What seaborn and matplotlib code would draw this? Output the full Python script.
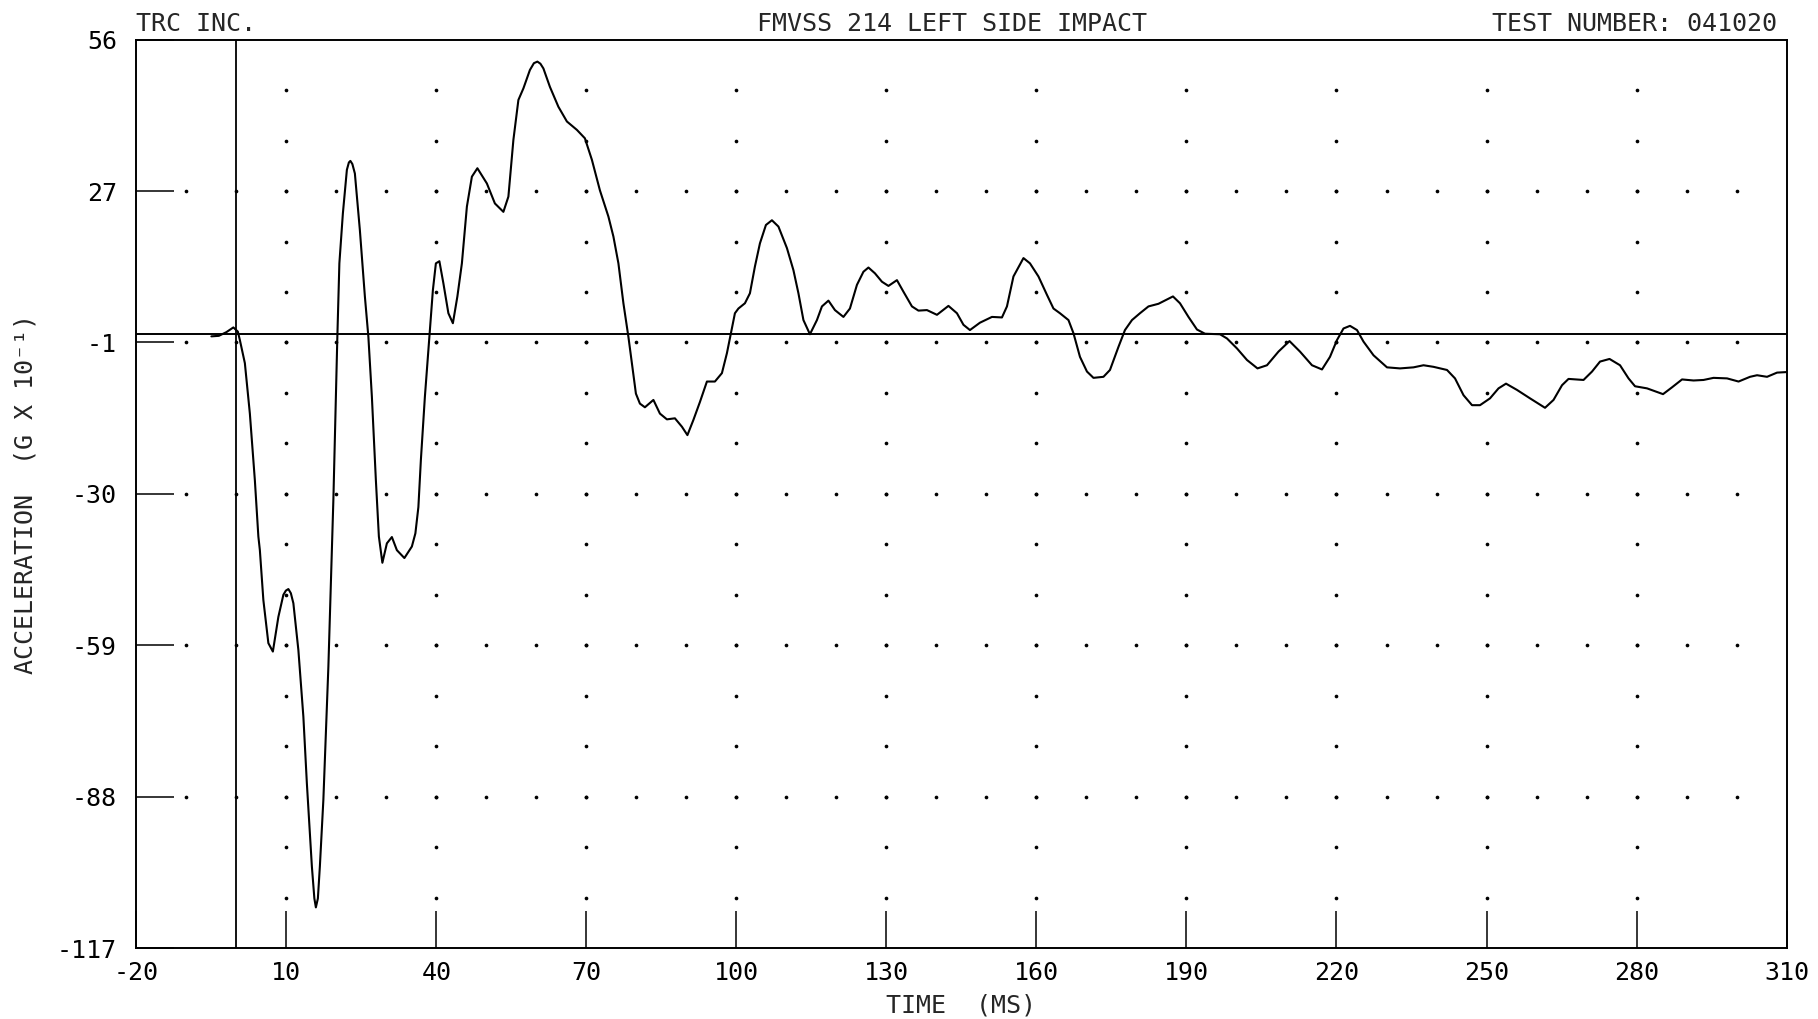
import numpy as np
import pandas as pd
import matplotlib.pyplot as plt
import seaborn as sns

time_ms = [-5.0, -3.5, -2.0, -0.6, 0.3, 0.7, 1.7, 2.7, 3.7, 4.4, 4.7, 5.4, 6.4, 7.3,
           8.4, 9.4, 9.9, 10.4, 10.9, 11.4, 12.4, 13.4, 14.1, 15.1, 15.6, 15.9, 16.3, 16.7, 17.4,
           17.9, 18.4, 18.9, 19.4, 19.9, 20.2, 20.6, 21.3, 22.1, 22.5, 22.8, 23.2, 23.7, 24.7, 25.7,
           26.4, 27.1, 27.9, 28.5, 29.2, 30.1, 31.1, 32.1, 33.6, 35.1, 35.8, 36.4, 36.9,
           37.7, 38.6, 39.3, 39.9, 40.6, 41.4, 42.4, 43.3, 44.2, 45.1, 46.1, 47.1, 48.2,
           50.1, 51.7, 53.4, 54.4, 55.4, 56.4, 57.4, 58.7, 59.5, 60.2, 60.8, 61.4, 62.7, 64.4, 66.1,
           68.1, 69.7, 71.1, 72.7, 74.4, 75.4, 76.4, 77.4, 78.4, 79.1, 79.9, 80.7, 81.7,
           83.4, 84.7, 86.1, 87.7, 89.1, 90.2, 91.4, 92.7, 94.1, 95.7, 97.1, 98.1, 98.9,
           99.7, 100.4, 101.7, 102.7, 103.7, 104.7, 105.9, 107.1, 108.4, 110.1, 111.4,
           112.4, 113.4, 114.7, 116.1, 117.1, 118.4, 119.7, 121.4, 122.7, 124.1, 125.4,
           126.4, 127.7, 129.1, 130.4, 132.1, 133.4, 135.1, 136.4, 138.1, 140.1, 142.4,
           144.1, 145.4, 146.7, 148.7, 151.1, 153.1, 154.1, 155.4, 157.4, 158.7, 160.4,
           162.1, 163.4, 164.7, 166.4, 167.4, 168.7, 170.1, 171.4, 173.4, 174.7, 176.4,
           177.7, 179.1, 180.7, 182.4, 184.4, 187.3, 188.7, 190.4, 192.1, 193.7, 196.7,
           198.1, 200.1, 202.1, 204.2, 206.1, 208.4, 210.6, 212.7, 215.1, 217.1, 218.7,
           220.1, 221.4, 222.7, 224.1, 225.4, 227.4, 230.1, 232.7, 235.4, 237.4, 239.4,
           242.1, 243.7, 245.4, 247.1, 248.7, 250.7, 252.4, 253.9, 256.1, 258.7, 261.7,
           263.4, 265.1, 266.4, 269.4, 271.1, 272.7, 274.6, 276.7, 278.4, 279.7, 282.1,
           285.3, 287.1, 289.1, 291.4, 293.4, 295.4, 298.1, 300.4, 302.7, 304.1, 306.1,
           308.1, 310.0]
accel = [-0.5, -0.4, 0.3, 1.2, 0.4, -1.2, -5.6, -15.2, -27.9, -38.6, -41.2, -50.7, -58.9, -60.5,
         -53.9, -49.7, -48.9, -48.6, -49.4, -51.3, -60.2, -72.9, -85.6, -101.4, -107.5, -109.2, -107.5, -101.4, -88.7,
         -76.1, -63.4, -47.5, -31.6, -12.0, -0.4, 13.4, 22.9, 31.2, 32.6, 32.9, 32.3, 30.5, 19.7, 7.1,
         -0.6, -12.0, -27.9, -38.6, -43.6, -39.9, -38.7, -41.2, -42.7, -40.5, -38.0, -33.0, -24.0,
         -12.0, -0.6, 8.3, 13.4, 13.8, 9.6, 3.9, 2.0, 7.1, 13.4, 24.2, 29.9, 31.5,
         28.6, 24.8, 23.2, 26.1, 36.9, 44.5, 46.7, 50.2, 51.5, 51.8, 51.4, 50.5, 47.0, 43.2, 40.4,
         38.8, 37.2, 33.1, 27.3, 22.3, 18.5, 13.4, 5.8, -0.6, -5.6, -11.4, -13.3, -14.0,
         -12.6, -15.2, -16.3, -16.1, -17.7, -19.3, -16.4, -13.0, -9.1, -9.1, -7.5, -3.7, 0.1,
         3.9, 4.8, 5.8, 7.7, 12.8, 17.2, 20.7, 21.6, 20.4, 16.3, 12.1,
         7.7, 2.6, -0.1, 2.6, 5.2, 6.3, 4.5, 3.2, 4.8, 9.3, 11.8,
         12.6, 11.5, 9.9, 9.1, 10.2, 8.0, 5.2, 4.4, 4.5, 3.6, 5.3,
         3.9, 1.7, 0.7, 2.1, 3.2, 3.1, 5.2, 10.9, 14.4, 13.4, 10.9,
         7.4, 4.8, 3.9, 2.6, 0.1, -4.4, -7.2, -8.4, -8.2, -6.9, -2.5,
         0.7, 2.6, 3.9, 5.2, 5.7, 7.1, 5.8, 3.2, 0.8, 0.0, -0.1,
         -0.9, -2.8, -5.0, -6.6, -6.0, -3.4, -1.4, -3.4, -6.0, -6.8, -4.4,
         -1.2, 1.0, 1.5, 0.7, -1.5, -4.1, -6.4, -6.6, -6.4, -6.0, -6.3,
         -6.9, -8.5, -11.7, -13.6, -13.6, -12.3, -10.4, -9.5, -10.7, -12.3, -14.1,
         -12.6, -9.8, -8.6, -8.8, -7.2, -5.3, -4.8, -6.0, -8.5, -10.0, -10.4,
         -11.5, -10.2, -8.7, -8.9, -8.8, -8.4, -8.5, -9.1, -8.2, -7.9, -8.2,
         -7.4, -7.3]

x_ticks = [-20, 10, 40, 70, 100, 130, 160, 190, 220, 250, 280, 310]
y_min, y_max = -117, 56
y_tick_labels = ['-117', '-88', '-59', '-30', '-1', '27', '56']

header_left = 'TRC INC.'
header_title = 'FMVSS 214 LEFT SIDE IMPACT'
header_right = 'TEST NUMBER: 041020'
x_label = 'TIME  (MS)'
y_label = 'ACCELERATION  (G X 10\u207b\u00b9)'

sns.set_style('white')
plt.rcParams['font.family'] = ['DejaVu Sans Mono', 'DejaVu Sans']
plt.rcParams['font.size'] = 18

fig = plt.figure(figsize=(18.18, 10.19), dpi=100)
ax = fig.add_axes([0.075, 0.0693, 0.9077, 0.8919])

# Dotted grid: rows of dots on the y ticks, columns of dots on the x ticks
y_ticks = np.linspace(y_min, y_max, len(y_tick_labels))
row_x = np.arange(-10, 301, 10)
col_y = np.linspace(y_min, y_max, 3 * (len(y_tick_labels) - 1) + 1)[1:-1]
dots = pd.concat([
    pd.DataFrame({'x': np.repeat(row_x, len(y_ticks) - 2), 'y': np.tile(y_ticks[1:-1], len(row_x))}),
    pd.DataFrame({'x': np.repeat(x_ticks[1:-1], len(col_y)), 'y': np.tile(col_y, len(x_ticks) - 2)}),
])
sns.scatterplot(data=dots, x='x', y='y', s=7, color='black', linewidth=0, ax=ax, zorder=2)

ax.axhline(0, color='black', lw=1.4, zorder=3)
ax.axvline(0, color='black', lw=1.3, zorder=3)

trace = pd.DataFrame({'time': time_ms, 'accel': accel})
sns.lineplot(data=trace, x='time', y='accel', color='black', lw=1.5,
             sort=False, estimator=None, ax=ax, zorder=4,
             solid_joinstyle='round', solid_capstyle='round')

ax.set_xlim(x_ticks[0], x_ticks[-1])
ax.set_ylim(y_min, y_max)
ax.set_xticks(x_ticks)
ax.set_xticklabels([str(t) for t in x_ticks])
ax.set_yticks(y_ticks)
ax.set_yticklabels(y_tick_labels)
ax.tick_params(axis='both', which='major', direction='in', length=27, width=1.1,
               color='black', labelsize=18, labelcolor='black',
               bottom=True, left=True, top=False, right=False)
ax.tick_params(axis='x', pad=9)
ax.tick_params(axis='y', pad=14)
for side in ['top', 'bottom', 'left', 'right']:
    ax.spines[side].set_visible(True)
    ax.spines[side].set_color('black')
    ax.spines[side].set_linewidth(1.4)

ax.set_xlabel(x_label, fontsize=18, labelpad=6)
ax.set_ylabel('')
fig.text(0.014, 0.515, y_label, rotation=90, ha='center', va='center', fontsize=18)

ax.text(0.0, 1.004, header_left, transform=ax.transAxes, ha='left', va='bottom', fontsize=18)
ax.text(0.494, 1.004, header_title, transform=ax.transAxes, ha='center', va='bottom', fontsize=18)
ax.text(0.994, 1.004, header_right, transform=ax.transAxes, ha='right', va='bottom', fontsize=18)

fig.savefig('out.png', dpi=100)
plt.close(fig)
